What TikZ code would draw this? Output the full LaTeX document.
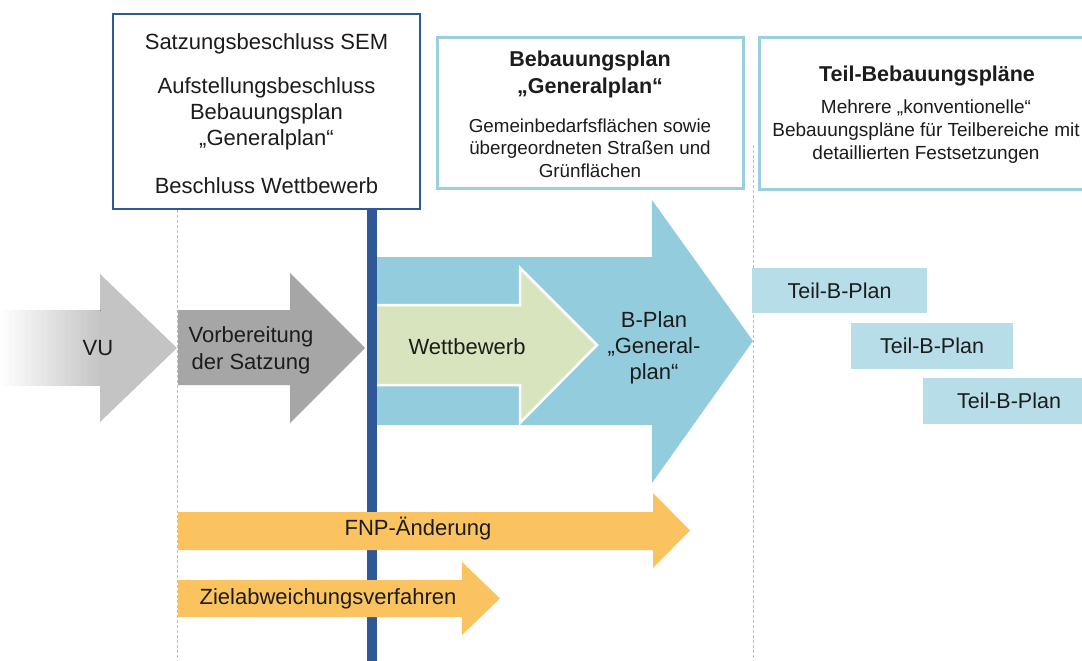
\documentclass[tikz,border=0pt]{standalone}
\usepackage{fontspec}
\setmainfont{Liberation Sans}
\usepackage{tikz}
\usetikzlibrary{positioning, calc}

\definecolor{sembblue}{RGB}{46,89,150}
\definecolor{framecyan}{RGB}{155,207,220}
\definecolor{planblue}{RGB}{147,205,221}
\definecolor{teilblue}{RGB}{183,221,232}
\definecolor{wettgreen}{RGB}{215,228,189}
\definecolor{prepgray}{RGB}{166,166,166}
\definecolor{vugray}{RGB}{196,196,196}
\definecolor{fnporange}{RGB}{250,195,95}
\definecolor{guidegray}{RGB}{190,190,190}
\definecolor{textdark}{RGB}{28,28,28}

\tikzset{
    every node/.style={text=textdark, inner sep=0pt},
    sembbox/.style={draw=sembblue, line width=2pt, fill=white},
    infobox/.style={draw=framecyan, line width=3pt, fill=white},
    guide/.style={guidegray, line width=0.8pt, dash pattern=on 3pt off 2pt},
    semtext/.style={align=center, font=\fontsize{22}{26}\selectfont},
    boxtitle/.style={align=center, font=\fontsize{21.5}{27}\selectfont\bfseries},
    boxsub/.style={align=center, font=\fontsize{18.8}{22.5}\selectfont},
    arrowlabel/.style={align=center, font=\fontsize{22}{27}\selectfont},
    teilbox/.style={fill=teilblue, font=\fontsize{21.5}{25}\selectfont}
}

\begin{document}
\begin{tikzpicture}[x=1pt, y=-1pt]
    \clip (0,0) rectangle (1082,661);
    \fill[white] (0,0) rectangle (1082,661);

    % Phase separators
    \coordinate (sepa) at (177,210);
    \coordinate (sepb) at (753,145);
    \draw[guide] (sepa) -- (sepa |- 0,661);
    \draw[guide] (sepb) -- (sepb |- 0,661);

    % Top boxes
    \node[sembbox, minimum width=307pt, minimum height=195pt] (semb) at (266.5,111.5) {};
    \node[infobox, minimum width=306pt, minimum height=150pt] (bpbox) at (590,113) {};
    \node[infobox, minimum width=340pt, minimum height=151pt] (teilbox) at (929,113.5) {};

    \node[semtext] (satzung) at (266.5,44) {Satzungsbeschluss SEM};
    \node[semtext] (aufstellung) at (266.5,114) {Aufstellungsbeschluss\\Bebauungsplan\\„Generalplan“};
    \node[semtext] (beschluss) at (266.5,186) {Beschluss Wettbewerb};

    \node[boxtitle] (bptitle) at (590,74.5) {Bebauungsplan\\„Generalplan“};
    \node[boxsub] (bpsub) at (590,148)
        {Gemeinbedarfsflächen sowie\\übergeordneten Straßen und\\Grünflächen};

    \node[boxtitle] (teiltitle) at (927,76) {Teil-Bebauungspläne};
    \node[boxsub, font=\fontsize{19}{23}\selectfont] (teilsub) at (926,131.5)
        {Mehrere „konventionelle“\\Bebauungspläne für Teilbereiche mit\\detaillierten Festsetzungen};

    % VU (fading in from the left)
    \fill[vugray] (0,310) -- (100,310) -- (100,274) -- (177,348) -- (100,422) -- (100,385) -- (0,385) -- cycle;
    \fill[left color=white, right color=vugray] (0,310) rectangle (100.5,385);
    \node[arrowlabel] (vu) at (98,348) {VU};

    % Vorbereitung
    \fill[prepgray] (178,310) -- (290,310) -- (290,273) -- (365,348) -- (290,423) -- (290,385) -- (178,385) -- cycle;
    \node[arrowlabel] (vorb) at (251,350) {Vorbereitung\\der Satzung};

    % B-Plan Generalplan with Wettbewerb inside
    \fill[planblue] (372,257) -- (652,257) -- (652,200) -- (753,341) -- (652,483) -- (652,425) -- (372,425) -- cycle;
    \filldraw[fill=wettgreen, draw=white, line width=2.5pt, line join=miter]
        (372,305) -- (520,305) -- (520,268) -- (597,345) -- (520,423) -- (520,385) -- (372,385) -- cycle;
    \node[arrowlabel] (wett) at (467,347) {Wettbewerb};
    \node[arrowlabel, font=\fontsize{22}{26}\selectfont] (bplan) at (654,348) {B-Plan\\„General-\\plan“};

    % Decision line
    \coordinate (lineend) at (372,661);
    \draw[sembblue, line width=10pt] (semb.south -| lineend) -- (lineend);

    % Teil-B-Plaene
    \node[teilbox, minimum width=175pt, minimum height=45pt] (teila) at (839.5,290.5) {Teil-B-Plan};
    \node[teilbox, minimum width=162pt, minimum height=46pt] (teilb) at (932,346) {Teil-B-Plan};
    \node[teilbox, minimum width=172pt, minimum height=46pt] (teilc) at (1009,401) {Teil-B-Plan};

    % FNP and Zielabweichung
    \fill[fnporange] (178,512) -- (653,512) -- (653,493) -- (690,530.5) -- (653,568) -- (653,550) -- (178,550) -- cycle;
    \node[arrowlabel] (fnp) at (418,529) {FNP-Änderung};
    \fill[fnporange] (178,580) -- (462,580) -- (462,562) -- (500,598.5) -- (462,635) -- (462,617) -- (178,617) -- cycle;
    \node[arrowlabel] (ziel) at (328,599) {Zielabweichungsverfahren};
\end{tikzpicture}
\end{document}
